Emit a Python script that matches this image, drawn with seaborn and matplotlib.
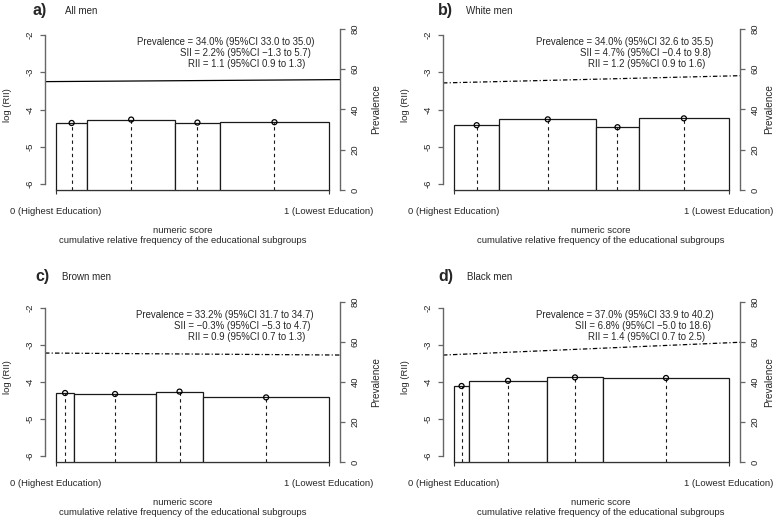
import numpy as np
import matplotlib
matplotlib.use("Agg")
import matplotlib.pyplot as plt
import seaborn as sns

# --- data ---

panel_tags = ["a)", "b)", "c)", "d)"]
groups = ["All men", "White men", "Brown men", "Black men"]

# relative frequency of each educational subgroup (bar widths, highest -> lowest education)
freq_a = [0.115, 0.321, 0.164, 0.400]
freq_b = [0.165, 0.352, 0.155, 0.328]
freq_c = [0.067, 0.299, 0.173, 0.461]
freq_d = [0.055, 0.283, 0.204, 0.458]

# prevalence (%) in each subgroup
prev_a = [33.3, 35.0, 33.5, 33.7]
prev_b = [32.2, 35.1, 31.2, 35.6]
prev_c = [34.5, 34.0, 35.2, 32.3]
prev_d = [38.0, 40.6, 42.3, 42.0]

# log(RII) line, value at score 0 and at score 1
lrii_a = [-3.25, -3.20]
lrii_b = [-3.28, -3.10]
lrii_c = [-3.22, -3.27]
lrii_d = [-3.26, -2.94]

stats_a = ["Prevalence = 34.0% (95%CI 33.0 to 35.0)", "SII = 2.2% (95%CI −1.3 to 5.7)", "RII = 1.1 (95%CI 0.9 to 1.3)"]
stats_b = ["Prevalence = 34.0% (95%CI 32.6 to 35.5)", "SII = 4.7% (95%CI −0.4 to 9.8)", "RII = 1.2 (95%CI 0.9 to 1.6)"]
stats_c = ["Prevalence = 33.2% (95%CI 31.7 to 34.7)", "SII = −0.3% (95%CI −5.3 to 4.7)", "RII = 0.9 (95%CI 0.7 to 1.3)"]
stats_d = ["Prevalence = 37.0% (95%CI 33.9 to 40.2)", "SII = 6.8% (95%CI −5.0 to 18.6)", "RII = 1.4 (95%CI 0.7 to 2.5)"]

x_ticklabels = ["0 (Highest Education)", "1 (Lowest Education)"]
left_ticks = [-6, -5, -4, -3, -2]
right_ticks = [0, 20, 40, 60, 80]

sns.set_style("ticks")
plt.rcParams["font.family"] = ["Liberation Sans", "DejaVu Sans"]
plt.rcParams["lines.scale_dashes"] = False

W, H = 778, 520
fig = plt.figure(figsize=(W / 100, H / 100), dpi=100)

AX_COL = "#666666"
FS = 6.8

# plot regions in pixels: left, top, right, bottom
boxes = [(45, 29, 340, 190), (443, 29, 740, 190), (45, 302, 340, 462), (443, 302, 740, 462)]
tag_pos = [(47, 11), (453, 11), (50, 277), (453, 277)]
name_pos = [(65, 11.5), (466, 11.5), (62, 277), (467, 277)]
xlab_x = [0.468, 0.53, 0.468, 0.53]
prev_lab_x = [1.105, 1.082, 1.105, 1.082]


def draw_panel(i, freq, prev, lrii, stats, solid):
    l, t, r, b = boxes[i]
    ax = fig.add_axes([l / W, 1 - b / H, (r - l) / W, (b - t) / H])
    ax2 = ax.twinx()

    edges = np.concatenate([[0], np.cumsum(freq)])
    mids = (edges[:-1] + edges[1:]) / 2

    # bars for each subgroup, width = relative frequency
    ax2.bar(edges[:-1], prev, width=freq, align="edge", facecolor="white",
            edgecolor="#1a1a1a", linewidth=0.9, zorder=1)
    ax2.vlines(mids, 0, prev, colors="#1a1a1a", linestyles=(0, (2.4, 2.4)), linewidth=0.8, zorder=2)
    sns.scatterplot(x=mids, y=prev, ax=ax2, s=13, marker="o", facecolor="none",
                    edgecolor="black", linewidth=0.9, zorder=3, legend=False)

    # log(RII) line
    ls = "-" if solid else (0, (3.2, 1.6, 0.8, 1.6))
    ax.axline((0, lrii[0]), (1, lrii[1]), color="black", linewidth=0.9, linestyle=ls)

    ax.set_xlim(-0.04, 1.04)
    ax.set_ylim(-6.16, -1.84)
    ax2.set_ylim(0, 80)

    for s in ["top", "right"]:
        ax.spines[s].set_visible(False)
    for s in ["top", "left", "bottom"]:
        ax2.spines[s].set_visible(False)
    ax.spines["left"].set_bounds(-6, -2)
    ax.spines["bottom"].set_bounds(0, 1)
    ax2.spines["right"].set_bounds(0, 80)
    ax.spines["left"].set_color(AX_COL)
    ax.spines["bottom"].set_color("#333333")
    ax2.spines["right"].set_color(AX_COL)
    for sp in [ax.spines["left"], ax.spines["bottom"], ax2.spines["right"]]:
        sp.set_linewidth(1.0)

    ax.set_xticks([0, 1])
    ax.set_xticklabels(x_ticklabels, fontsize=FS)
    ax.set_yticks(left_ticks)
    ax.set_yticklabels([str(v) for v in left_ticks], rotation=90, va="center", fontsize=FS)
    ax2.set_yticks(right_ticks)
    ax2.set_yticklabels([str(v) for v in right_ticks], rotation=90, va="center", fontsize=FS)
    ax.tick_params(axis="x", length=3, width=0.8, color="#333333", pad=9.5)
    ax.tick_params(axis="y", length=3.5, width=0.9, color=AX_COL, pad=4)
    ax2.tick_params(axis="y", length=3.5, width=0.9, color=AX_COL, pad=4)

    ax.set_ylabel("log (RII)", fontsize=FS)
    ax.yaxis.set_label_coords(-0.112, 0.53)
    ax2.set_ylabel("Prevalence", fontsize=7.2)
    ax2.yaxis.set_label_coords(prev_lab_x[i], 0.5)
    ax.set_xlabel("numeric score\ncumulative relative frequency of the educational subgroups",
                  fontsize=FS, linespacing=1.15)
    ax.xaxis.set_label_coords(xlab_x[i], -0.225)

    # statistics block
    for txt, xr, yr in zip(stats, [0.912, 0.901, 0.883], [0.917, 0.849, 0.781]):
        ax.text(xr, yr, txt, transform=ax.transAxes, ha="right", va="center", fontsize=6.9)

    # panel tag and group name
    fig.text(tag_pos[i][0] / W, 1 - tag_pos[i][1] / H, panel_tags[i], ha="right", va="center",
             fontsize=11.5, fontweight="bold")
    fig.text(name_pos[i][0] / W, 1 - name_pos[i][1] / H, groups[i], ha="left", va="center",
             fontsize=7)


draw_panel(0, freq_a, prev_a, lrii_a, stats_a, True)
draw_panel(1, freq_b, prev_b, lrii_b, stats_b, False)
draw_panel(2, freq_c, prev_c, lrii_c, stats_c, False)
draw_panel(3, freq_d, prev_d, lrii_d, stats_d, False)

fig.savefig("out.png", dpi=100)
